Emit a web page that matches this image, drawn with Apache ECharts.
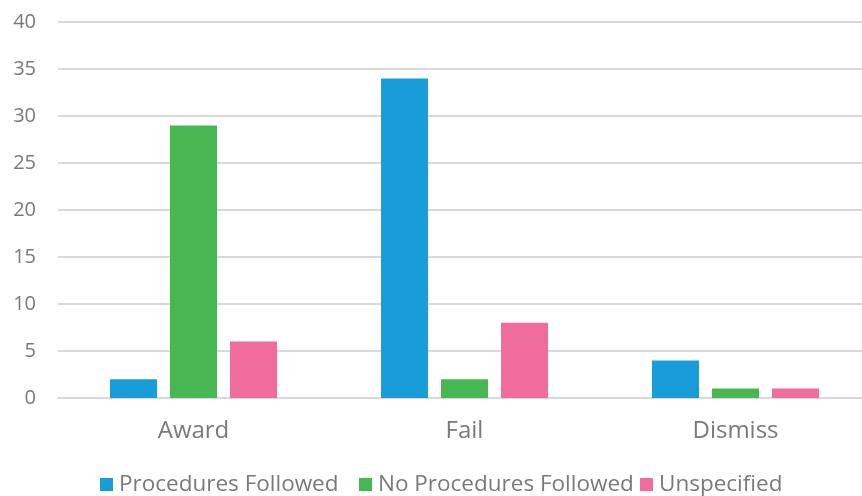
<!DOCTYPE html>
<html>
<head>
<meta charset="utf-8">
<script src="https://cdn.jsdelivr.net/npm/echarts@6/dist/echarts.min.js"></script>
<style>
  html, body { margin: 0; padding: 0; background: #fff; overflow: hidden; width: 862px; height: 496px; }
  /* the plot area runs a few pixels past the right edge of the page */
  #chart { width: 871px; height: 496px; }
</style>
</head>
<body>
<div id="chart"></div>
<script>
// Outcome categories and counts per procedure group
const categories = ['Award', 'Fail', 'Dismiss'];
const seriesNames = ['Procedures Followed', 'No Procedures Followed', 'Unspecified'];
const proceduresFollowed = [2, 34, 4];
const noProceduresFollowed = [29, 2, 1];
const unspecified = [6, 8, 1];
const yTicks = { min: 0, max: 40, interval: 5 };

const textColor = '#7a7a7a';
const fontFamily = '"Open Sans", Lato, sans-serif';
const colors = ['#189dd9', '#46b751', '#f06c9b'];
const legendLeft = [100, 359, 640];

const chart = echarts.init(document.getElementById('chart'), null, { renderer: 'canvas' });

function barSeries(name, data, color) {
  return {
    name: name,
    type: 'bar',
    data: data,
    barWidth: 47,
    barGap: '27.7%',
    itemStyle: { color: color },
    animation: false
  };
}

// one legend block per series so each entry sits at its own spot along the bottom
const legends = seriesNames.map((name, i) => ({
  top: 473,
  left: legendLeft[i],
  padding: 0,
  itemWidth: 13,
  itemHeight: 13,
  icon: 'rect',
  textStyle: { color: textColor, fontSize: 22.5, fontFamily: fontFamily, padding: [0, 0, 0, 1] },
  data: [name]
}));

chart.setOption({
  backgroundColor: '#ffffff',
  textStyle: { fontFamily: fontFamily },
  grid: { left: 58, top: 22, right: 0, bottom: 98, containLabel: false },
  legend: legends,
  xAxis: {
    type: 'category',
    data: categories,
    axisLine: { show: true, lineStyle: { color: '#d9d9d9', width: 2 } },
    axisTick: { show: false },
    axisLabel: { color: textColor, fontSize: 24, margin: 21, fontFamily: fontFamily }
  },
  yAxis: {
    type: 'value',
    min: yTicks.min,
    max: yTicks.max,
    interval: yTicks.interval,
    axisLine: { show: false },
    axisTick: { show: false },
    splitLine: { lineStyle: { color: '#d9d9d9', width: 2 } },
    axisLabel: { color: textColor, fontSize: 20, margin: 22, fontFamily: fontFamily }
  },
  series: [
    barSeries(seriesNames[0], proceduresFollowed, colors[0]),
    barSeries(seriesNames[1], noProceduresFollowed, colors[1]),
    barSeries(seriesNames[2], unspecified, colors[2])
  ]
});
</script>
</body>
</html>
